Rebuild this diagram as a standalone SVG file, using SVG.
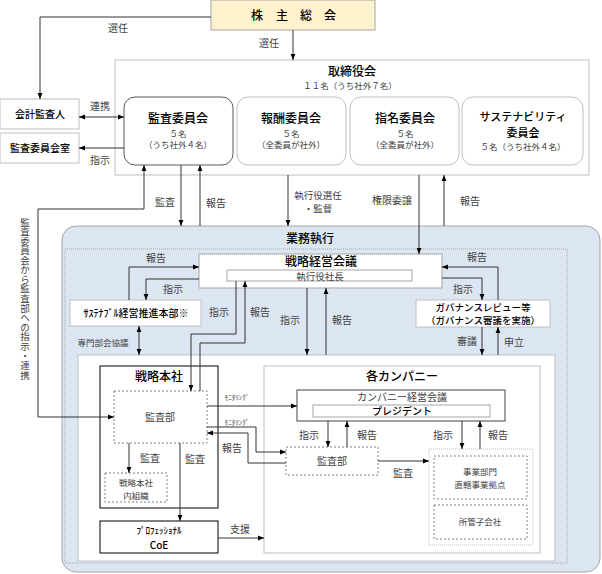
<svg xmlns="http://www.w3.org/2000/svg" width="602" height="574" viewBox="0 0 602 574">
<style>
text{font-family:"Noto Sans CJK JP","Noto Sans",sans-serif;text-anchor:middle;fill:#404040}
.t{font-size:12px;fill:#000;font-weight:500}
.t2{font-size:11px;fill:#000;font-weight:500}
.m{font-size:10px}
.b{font-size:10px;fill:#000;font-weight:500}
.b2{font-size:9.5px;fill:#000;font-weight:500}
.s{font-size:8.5px}
.xs{font-size:7px}
.box{fill:#fff;stroke:#bfbfbf;stroke-width:1}
.dk{fill:#fff;stroke:#404040;stroke-width:1}
.bl{fill:#fff;stroke:#000;stroke-width:1}
.dash{fill:#fff;stroke:#7f7f7f;stroke-width:1;stroke-dasharray:2,2}
.c path{fill:none;stroke:#333;stroke-width:1}
.e{marker-end:url(#a)}
.bt{marker-start:url(#a);marker-end:url(#a)}
</style>
<defs>
<marker id="a" viewBox="0 0 10 10" refX="10" refY="5" markerWidth="6" markerHeight="6" markerUnits="userSpaceOnUse" orient="auto-start-reverse"><path d="M0,1 L10,5 L0,9 z" fill="#000"/></marker>
</defs>
<rect width="602" height="574" fill="#fff"/>

<g id="shareholders">
<rect x="211" y="0" width="164" height="30" fill="#fff2cc" stroke="#a6a6a6"/>
<text class="t" x="257 282 306 330" y="20">株主総会</text>
</g>

<g id="board">
<rect class="box" x="115" y="60" width="474" height="115"/>
<text class="t" x="352" y="76">取締役会</text>
<text class="s" x="350" y="89">１１名（うち社外７名）</text>
</g>

<g id="audit-committee">
<rect x="124" y="97" width="109" height="68" rx="11" fill="#fff" stroke="#595959"/>
<text class="t" x="178" y="123">監査委員会</text>
<text class="s" x="178" y="137">５名</text>
<text class="s" x="178" y="148">（うち社外４名）</text>
</g>
<g id="compensation-committee">
<rect class="box" x="237" y="97" width="109" height="68" rx="11"/>
<text class="t" x="291" y="123">報酬委員会</text>
<text class="s" x="291" y="137">５名</text>
<text class="s" x="291" y="148">（全委員が社外）</text>
</g>
<g id="nomination-committee">
<rect class="box" x="350" y="97" width="109" height="68" rx="11"/>
<text class="t" x="405" y="123">指名委員会</text>
<text class="s" x="405" y="137">５名</text>
<text class="s" x="405" y="148">（全委員が社外）</text>
</g>
<g id="sustainability-committee">
<rect class="box" x="462" y="97" width="121" height="68" rx="11"/>
<text class="t2" x="523" y="121">サステナビリティ</text>
<text class="t2" x="523" y="137">委員会</text>
<text class="s" x="523" y="150">５名（うち社外４名）</text>
</g>

<g id="auditor">
<rect class="box" x="0" y="99" width="79" height="30"/>
<text class="b" x="40" y="118">会計監査人</text>
</g>
<g id="audit-office">
<rect class="box" x="0" y="133" width="79" height="30"/>
<text class="b" x="40" y="152">監査委員会室</text>
</g>

<g id="execution">
<rect x="62" y="226" width="538" height="346" rx="14" fill="#dce6f2" stroke="#a6a6a6"/>
<rect x="65" y="249" width="502" height="314" fill="none" stroke="#a6a6a6" stroke-dasharray="1,1"/>
<text class="t" x="310" y="243">業務執行</text>
<rect class="box" x="78" y="355" width="477" height="206"/>
</g>

<g id="strategic-meeting">
<rect x="199" y="254" width="243" height="34" fill="#fff" stroke="#a6a6a6"/>
<text class="t" x="321" y="266">戦略経営会議</text>
<rect x="227" y="270" width="185" height="11" fill="#fff" stroke="#a6a6a6"/>
<text class="m" x="320" y="279.5" style="font-size:9.5px">執行役社長</text>
</g>

<g id="sustainability-hq">
<rect x="70" y="300" width="131" height="26" fill="#fff" stroke="#bfbfbf"/>
<text class="b" x="136" y="317">ｻｽﾃﾅﾌﾞﾙ経営推進本部※</text>
</g>

<g id="governance-review">
<rect x="416" y="300" width="134" height="27" fill="#fff" stroke="#bfbfbf"/>
<text class="b2" x="483" y="311">ガバナンスレビュー等</text>
<text class="b2" x="483" y="324">（ガバナンス審議を実施）</text>
</g>

<g id="strategic-hq">
<rect class="bl" x="100" y="366" width="118" height="142"/>
<text class="t" x="159" y="381">戦略本社</text>
</g>
<g id="hq-audit">
<rect class="dash" x="114" y="391" width="93" height="52"/>
<text class="m" x="160" y="421">監査部</text>
</g>
<g id="hq-internal">
<rect class="dash" x="105" y="473" width="62" height="29"/>
<text class="s" x="136" y="485.5">戦略本社</text>
<text class="s" x="136" y="498.5">内組織</text>
</g>
<g id="coe">
<rect class="bl" x="100" y="521" width="118" height="32"/>
<text class="b" x="159" y="534" style="font-size:9px">ﾌﾟﾛﾌｪｯｼｮﾅﾙ</text>
<text class="b" x="159" y="549">CoE</text>
</g>

<g id="companies">
<rect class="box" x="264" y="366" width="276" height="187"/>
<text class="t" x="402" y="381">各カンパニー</text>
</g>
<g id="company-meeting">
<rect class="dk" x="297" y="390" width="208" height="31"/>
<text class="m" x="402" y="401">カンパニー経営会議</text>
<rect x="313" y="405" width="177" height="12" fill="#fff" stroke="#a6a6a6"/>
<text class="b" x="402" y="415">プレジデント</text>
</g>
<g id="company-audit">
<rect class="dash" x="286" y="447" width="92" height="28"/>
<text class="m" x="332" y="465">監査部</text>
</g>
<g id="business-units">
<rect x="429" y="449" width="104" height="96" fill="#fff" stroke="#bfbfbf" stroke-dasharray="1,1"/>
<rect class="dash" x="434" y="456" width="93" height="43"/>
<text class="s" x="480" y="475">事業部門</text>
<text class="s" x="480" y="488">直轄事業拠点</text>
<rect class="dash" x="434" y="505" width="93" height="34"/>
<text class="s" x="480" y="525">所管子会社</text>
</g>

<g class="c" id="connectors">
<path class="e" d="M211,17 H40 V99"/>
<path class="e" d="M293,30 V60"/>
<path class="bt" d="M79,117 H124"/>
<path class="e" d="M124,148 H79"/>
<path class="bt" d="M144,165 V209 H38 V417 H114"/>
<path class="e" d="M181,165 V226"/>
<path class="e" d="M200,226 V165"/>
<path class="e" d="M288,175 V226"/>
<path class="e" d="M419,175 V254"/>
<path class="e" d="M444,226 V175"/>
<path class="e" d="M129,300 V267 H199"/>
<path class="e" d="M199,279 H146 V300"/>
<path class="bt" d="M139,326 V355"/>
<path class="e" d="M236,281 V334 H191 V391"/>
<path class="e" d="M200,391 V343 H245 V281"/>
<path class="e" d="M307,288 V355"/>
<path class="e" d="M326,355 V288"/>
<path class="e" d="M498,300 V267 H442"/>
<path class="e" d="M442,278 H482 V300"/>
<path class="e" d="M482,327 V355"/>
<path class="e" d="M498,355 V327"/>
<path class="e" d="M129,443 V473"/>
<path class="e" d="M180,443 V521"/>
<path class="e" d="M218,538 H264"/>
<path class="e" d="M207,406 H297"/>
<path class="e" d="M207,427 H256 V452 H286"/>
<path class="e" d="M286,463 H248 V433 H207"/>
<path class="e" d="M328,421 V447"/>
<path class="e" d="M347,447 V421"/>
<path class="e" d="M378,461 H429"/>
<path class="e" d="M462,421 V449"/>
<path class="e" d="M480,449 V421"/>
</g>

<g id="labels">
<text class="m" x="118" y="32">選任</text>
<text class="m" x="269" y="47">選任</text>
<text class="m" x="100" y="110">連携</text>
<text class="m" x="100" y="164">指示</text>
<text class="m" style="font-size:9.5px" x="25 25 25 25 25 25 25 25 25 25 25 25 25 25 25 25 25" y="225.5 235.1 244.6 254.2 263.7 273.3 282.9 292.4 302 311.5 321.1 330.7 340.2 349.8 359.3 368.9 378.5">監査委員会から監査部への指示・連携</text>
<text class="m" x="165" y="206">監査</text>
<text class="m" x="216" y="207">報告</text>
<text class="m" x="318" y="198.5" style="font-size:9.5px">執行役選任</text>
<text class="m" x="318" y="212" style="font-size:9.5px">・監督</text>
<text class="m" x="392" y="204">権限委譲</text>
<text class="m" x="470" y="205">報告</text>
<text class="m" x="156" y="262">報告</text>
<text class="m" x="173" y="293">指示</text>
<text class="s" x="103" y="346">専門部会協議</text>
<text class="m" x="219" y="316">指示</text>
<text class="m" x="260" y="316">報告</text>
<text class="m" x="290" y="324">指示</text>
<text class="m" x="342" y="324">報告</text>
<text class="m" x="477" y="261">報告</text>
<text class="m" x="463" y="293">指示</text>
<text class="m" x="467" y="345">審議</text>
<text class="m" x="514" y="346">申立</text>
<text class="xs" x="237" y="400">ﾓﾆﾀﾘﾝｸﾞ</text>
<text class="xs" x="237" y="425">ﾓﾆﾀﾘﾝｸﾞ</text>
<text class="m" x="232" y="452">報告</text>
<text class="m" x="150" y="462">監査</text>
<text class="m" x="195" y="463">監査</text>
<text class="m" x="240" y="533">支援</text>
<text class="m" x="309" y="439">指示</text>
<text class="m" x="367" y="439">報告</text>
<text class="m" x="403" y="477">監査</text>
<text class="m" x="443" y="439">指示</text>
<text class="m" x="498" y="439">報告</text>
</g>
</svg>
